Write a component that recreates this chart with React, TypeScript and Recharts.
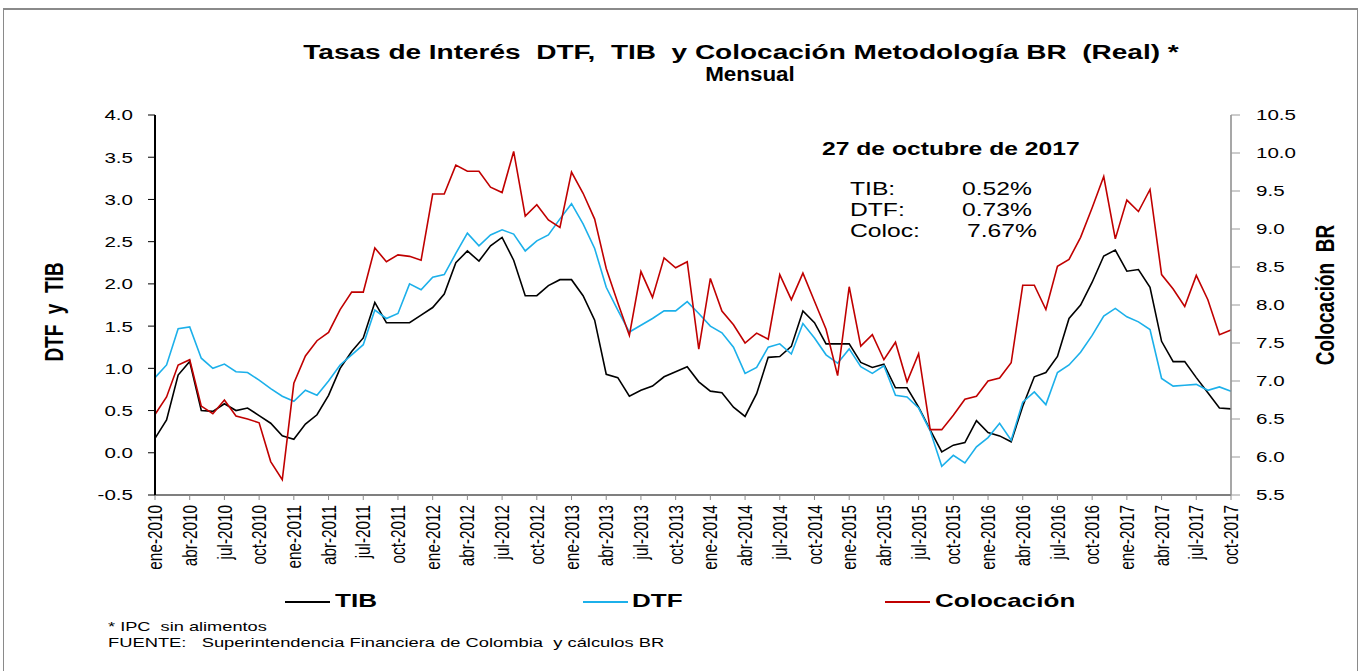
import React from 'react';
import { LineChart, Line, XAxis, YAxis } from 'recharts';

const MONTHS = ['ene', 'feb', 'mar', 'abr', 'may', 'jun', 'jul', 'ago', 'sep', 'oct', 'nov', 'dic'];
const YEARS = [2010, 2011, 2012, 2013, 2014, 2015, 2016, 2017];
const LAST_MONTH_2017 = 10;

const TIB = [
  0.17, 0.39, 0.92, 1.08, 0.50, 0.49, 0.58, 0.50, 0.53, 0.44, 0.35, 0.20,
  0.16, 0.34, 0.45, 0.68, 1.00, 1.20, 1.36, 1.78, 1.54, 1.54, 1.54, 1.63,
  1.72, 1.88, 2.25, 2.39, 2.27, 2.45, 2.55, 2.28, 1.86, 1.86, 1.98, 2.05,
  2.05, 1.86, 1.57, 0.93, 0.89, 0.67, 0.74, 0.79, 0.90, 0.96, 1.02, 0.84,
  0.73, 0.71, 0.54, 0.43, 0.70, 1.13, 1.14, 1.26, 1.68, 1.54, 1.29, 1.29,
  1.29, 1.07, 1.01, 1.05, 0.77, 0.77, 0.54, 0.27, 0.01, 0.09, 0.12, 0.38,
  0.24, 0.20, 0.13, 0.55, 0.90, 0.95, 1.14, 1.59, 1.75, 2.02, 2.33, 2.40,
  2.15, 2.17, 1.96, 1.32, 1.08, 1.08, 0.89, 0.71, 0.53, 0.52,
];

const DTF = [
  0.89, 1.04, 1.47, 1.49, 1.12, 1.00, 1.05, 0.96, 0.95, 0.86, 0.76, 0.67,
  0.61, 0.74, 0.68, 0.85, 1.04, 1.16, 1.28, 1.69, 1.59, 1.65, 2.00, 1.93,
  2.08, 2.11, 2.36, 2.60, 2.45, 2.58, 2.64, 2.59, 2.39, 2.51, 2.58, 2.77,
  2.95, 2.71, 2.42, 1.96, 1.69, 1.43, 1.51, 1.59, 1.68, 1.68, 1.79, 1.65,
  1.50, 1.42, 1.25, 0.94, 1.01, 1.25, 1.29, 1.17, 1.53, 1.36, 1.16, 1.06,
  1.23, 1.02, 0.94, 1.03, 0.68, 0.66, 0.53, 0.26, -0.16, -0.03, -0.12, 0.07,
  0.18, 0.35, 0.15, 0.60, 0.72, 0.57, 0.95, 1.04, 1.19, 1.39, 1.62, 1.71,
  1.61, 1.55, 1.46, 0.88, 0.79, 0.80, 0.81, 0.74, 0.78, 0.73,
];

const COLOCACION = [
  6.56, 6.79, 7.21, 7.28, 6.67, 6.57, 6.75, 6.54, 6.50, 6.45, 5.94, 5.70,
  6.97, 7.33, 7.53, 7.64, 7.94, 8.17, 8.17, 8.75, 8.57, 8.66, 8.64, 8.59,
  9.46, 9.46, 9.84, 9.76, 9.76, 9.55, 9.48, 10.02, 9.17, 9.32, 9.12, 9.02,
  9.75, 9.47, 9.13, 8.48, 8.03, 7.60, 8.44, 8.10, 8.62, 8.49, 8.57, 7.42,
  8.35, 7.92, 7.74, 7.50, 7.63, 7.55, 8.40, 8.07, 8.42, 8.05, 7.68, 7.07,
  8.24, 7.46, 7.61, 7.28, 7.51, 6.99, 7.36, 6.36, 6.36, 6.55, 6.76, 6.80,
  7.00, 7.04, 7.24, 8.26, 8.26, 7.94, 8.51, 8.60, 8.89, 9.28, 9.69, 8.87,
  9.38, 9.23, 9.52, 8.40, 8.21, 7.98, 8.39, 8.07, 7.61, 7.67,
];

const LEFT_TICKS = [-0.5, 0, 0.5, 1.0, 1.5, 2.0, 2.5, 3.0, 3.5, 4.0];
const RIGHT_TICKS = [5.5, 6.0, 6.5, 7.0, 7.5, 8.0, 8.5, 9.0, 9.5, 10.0, 10.5];

const LATEST = [
  { label: 'TIB:', value: '0.52%' },
  { label: 'DTF:', value: '0.73%' },
  { label: 'Coloc:', value: '7.67%' },
];

const SERIES = [
  { key: 'tib', name: 'TIB', color: '#000000', axis: 'left' },
  { key: 'dtf', name: 'DTF', color: '#1CB0EA', axis: 'left' },
  { key: 'col', name: 'Colocación', color: '#C00000', axis: 'right' },
];

const CATEGORIES: string[] = [];
YEARS.forEach((y) => {
  MONTHS.forEach((m, mi) => {
    if (y === 2017 && mi >= LAST_MONTH_2017) return;
    CATEGORIES.push(`${m}-${y}`);
  });
});

const DATA = CATEGORIES.map((m, i) => ({ m, tib: TIB[i], dtf: DTF[i], col: COLOCACION[i] }));

const FONT = '"Liberation Sans", Arial, sans-serif';
const SX = 1.37;

const LeftTick = (props: any) => {
  const { x, y, payload } = props;
  return (
    <g transform={`translate(${x},${y})`}>
      <text transform={`scale(${SX},1)`} textAnchor="end" dy="0.36em" fontSize={15} fill="#000" fontFamily={FONT}>
        {Number(payload.value).toFixed(1)}
      </text>
    </g>
  );
};

const RightTick = (props: any) => {
  const { x, y, payload } = props;
  return (
    <g transform={`translate(${x},${y})`}>
      <text transform={`scale(${SX},1)`} textAnchor="start" dy="0.36em" fontSize={15} fill="#000" fontFamily={FONT}>
        {Number(payload.value).toFixed(1)}
      </text>
    </g>
  );
};

const BottomTick = (props: any) => {
  const { x, y, payload } = props;
  return (
    <g transform={`translate(${x},${y})`}>
      <text transform="rotate(-90) scale(1.02,1.35)" textAnchor="end" dy="0.35em" fontSize={15} fill="#000" fontFamily={FONT}>
        {payload.value}
      </text>
    </g>
  );
};

const Stretched = ({ left, top, size, bold, children, center, sx = SX }: any) => (
  <div
    style={{
      position: 'absolute',
      left,
      top,
      fontSize: size,
      fontWeight: bold ? 700 : 400,
      fontFamily: FONT,
      lineHeight: 1,
      whiteSpace: 'pre',
      color: '#000',
      transformOrigin: center ? 'center top' : 'left top',
      transform: center ? `translateX(-50%) scaleX(${sx})` : `scaleX(${sx})`,
    }}
  >
    {children}
  </div>
);

const Rotated = ({ cx, cy, size, children }: any) => (
  <div
    style={{
      position: 'absolute',
      left: cx,
      top: cy,
      fontSize: size,
      fontWeight: 700,
      fontFamily: FONT,
      lineHeight: 1,
      whiteSpace: 'pre',
      color: '#000',
      transformOrigin: '0 0',
      transform: `rotate(-90deg) scaleY(${SX}) translate(-50%, -50%)`,
    }}
  >
    {children}
  </div>
);

const LEGEND_POS = [
  { line: 285, text: 335 },
  { line: 583, text: 632 },
  { line: 885, text: 935 },
];

export default function App() {
  return (
    <div style={{ position: 'absolute', left: 0, top: 0, width: 1362, height: 671, background: '#fff', overflow: 'hidden' }}>
      <div
        style={{
          position: 'absolute',
          left: 3,
          top: 8,
          width: 1353,
          height: 700,
          borderTop: '2px solid #8a8a8a',
          borderLeft: '1px solid #8a8a8a',
          borderRight: '1px solid #8a8a8a',
        }}
      />
      <div style={{ position: 'absolute', left: 0, top: 0 }}>
        <LineChart width={1362} height={671} data={DATA} margin={{ top: 115, right: 0, bottom: 96, left: 0 }}>
          <XAxis
            xAxisId="top"
            orientation="top"
            dataKey="m"
            scale="point"
            padding={{ left: 0, right: 0 }}
            height={0}
            tick={false}
            tickLine={false}
            axisLine={{ stroke: '#7a7a7a', strokeWidth: 1.5 }}
          />
          <XAxis
            dataKey="m"
            scale="point"
            padding={{ left: 0, right: 0 }}
            interval={2}
            height={80}
            tickSize={5}
            tickMargin={5}
            tick={<BottomTick />}
            tickLine={{ stroke: '#8a8a8a' }}
            axisLine={{ stroke: '#555', strokeWidth: 1.5 }}
          />
          <YAxis
            yAxisId="left"
            orientation="left"
            width={155}
            domain={[-0.5, 4]}
            ticks={LEFT_TICKS}
            allowDataOverflow
            tickSize={7}
            tickMargin={15}
            tick={<LeftTick />}
            tickLine={{ stroke: '#000' }}
            axisLine={{ stroke: '#000', strokeWidth: 2 }}
          />
          <YAxis
            yAxisId="right"
            orientation="right"
            width={131}
            domain={[5.5, 10.5]}
            ticks={RIGHT_TICKS}
            allowDataOverflow
            tickSize={9}
            tickMargin={16}
            tick={<RightTick />}
            tickLine={{ stroke: '#9a9a9a' }}
            axisLine={{ stroke: '#8a8a8a', strokeWidth: 1.5 }}
          />
          {SERIES.map((s) => (
            <Line
              key={s.key}
              type="linear"
              dataKey={s.key}
              name={s.name}
              yAxisId={s.axis}
              stroke={s.color}
              strokeWidth={1.6}
              dot={false}
              activeDot={false}
              isAnimationActive={false}
            />
          ))}
        </LineChart>
      </div>

      <Stretched left={741} top={42} size={20} bold center sx={1.4}>
        {'Tasas de Interés  DTF,  TIB  y Colocación Metodología BR  (Real) *'}
      </Stretched>
      <Stretched left={750} top={64} size={20} bold center sx={1.12}>
        Mensual
      </Stretched>

      <Rotated cx={54} cy={312} size={19}>{'DTF  y  TIB'}</Rotated>
      <Rotated cx={1325} cy={295} size={19}>{'Colocación  BR'}</Rotated>

      <Stretched left={822} top={140} size={18} bold>
        27 de octubre de 2017
      </Stretched>
      {LATEST.map((r, i) => (
        <React.Fragment key={r.label}>
          <Stretched left={850} top={180 + i * 21} size={18}>
            {r.label}
          </Stretched>
          <Stretched left={962 + (i === 2 ? 5 : 0)} top={180 + i * 21} size={18}>
            {r.value}
          </Stretched>
        </React.Fragment>
      ))}

      {SERIES.map((s, i) => (
        <React.Fragment key={s.key}>
          <div
            style={{
              position: 'absolute',
              left: LEGEND_POS[i].line,
              top: 601,
              width: 45,
              height: 2,
              background: s.color,
            }}
          />
          <Stretched left={LEGEND_POS[i].text} top={591} size={19} bold>
            {s.name}
          </Stretched>
        </React.Fragment>
      ))}

      <Stretched left={108} top={620} size={13} sx={1.4}>
        {'* IPC  sin alimentos'}
      </Stretched>
      <Stretched left={108} top={636} size={13} sx={1.41}>
        {'FUENTE:   Superintendencia Financiera de Colombia  y cálculos BR'}
      </Stretched>
    </div>
  );
}
